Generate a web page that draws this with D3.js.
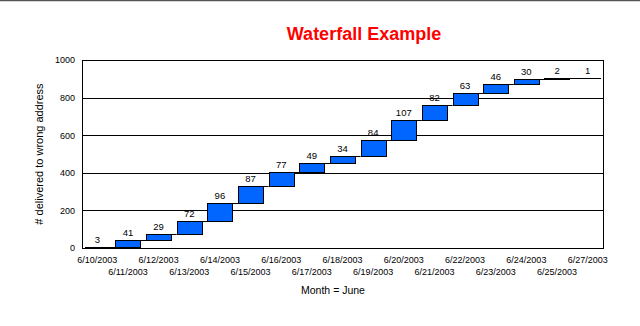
<!DOCTYPE html>
<html><head><meta charset="utf-8">
<script src="https://cdn.jsdelivr.net/npm/d3@7"></script>
<style>body{margin:0;background:#fff}svg{display:block}</style>
</head><body>
<script>
const categories = ["6/10/2003","6/11/2003","6/12/2003","6/13/2003","6/14/2003","6/15/2003","6/16/2003","6/17/2003","6/18/2003","6/19/2003","6/20/2003","6/21/2003","6/22/2003","6/23/2003","6/24/2003","6/25/2003","6/27/2003"];
const values = [3,41,29,72,96,87,77,49,34,84,107,82,63,46,30,2,1];
const yTicks = [0,200,400,600,800,1000];

const W = 640, H = 326;
const m = {left:82, right:603, top:60, bottom:248};
const svg = d3.select("body").append("svg").attr("width",W).attr("height",H);
svg.append("rect").attr("width",W).attr("height",H).attr("fill","#fff");
svg.append("line").attr("x1",0).attr("x2",W).attr("y1",0.5).attr("y2",0.5).attr("stroke","#555").attr("stroke-width",1.5);

let cum = 0;
const data = values.map((v,i)=>{const d={cat:categories[i],v,base:cum,top:cum+v};cum+=v;return d;});

const x = d3.scaleBand().domain(categories).range([m.left,m.right]).paddingInner(0.18).paddingOuter(0.09);
const y = d3.scaleLinear().domain([0,1000]).range([m.bottom,m.top]);
const font = "'Liberation Sans', Arial, sans-serif";

// gridlines
svg.append("g").selectAll("line").data(yTicks).join("line")
  .attr("x1",m.left).attr("x2",m.right)
  .attr("y1",d=>Math.round(y(d))+0.5).attr("y2",d=>Math.round(y(d))+0.5)
  .attr("stroke","#000").attr("stroke-width",1);

// frame
svg.append("rect").attr("x",m.left+0.5).attr("y",m.top+0.5)
  .attr("width",m.right-m.left).attr("height",m.bottom-m.top)
  .attr("fill","none").attr("stroke","#000");

// y axis labels
const ya = d3.axisLeft(y).tickValues(yTicks).tickFormat(d3.format("d")).tickSize(0).tickPadding(7);
const yg = svg.append("g").attr("transform",`translate(${m.left},0)`).call(ya);
yg.select(".domain").remove();
yg.selectAll("text").attr("font-family",font).attr("font-size",9).attr("fill","#000");

// connectors
svg.append("g").selectAll("line").data(data.slice(0,-1)).join("line")
  .attr("x1",d=>x(d.cat)+x.bandwidth()).attr("x2",(d,i)=>x(categories[i+1]))
  .attr("y1",d=>Math.round(y(d.top))+0.5).attr("y2",d=>Math.round(y(d.top))+0.5)
  .attr("stroke","#000");

// bars
svg.append("g").selectAll("rect").data(data).join("rect")
  .attr("x",d=>Math.round(x(d.cat))+0.5).attr("width",Math.round(x.bandwidth()))
  .attr("y",d=>Math.round(y(d.top))+0.5)
  .attr("height",d=>Math.max(0.01,Math.round(y(d.base))-Math.round(y(d.top))))
  .attr("fill","#0066ff").attr("stroke","#000").attr("stroke-width",1);

// value labels
svg.append("g").selectAll("text").data(data).join("text")
  .attr("x",d=>x(d.cat)+x.bandwidth()/2).attr("y",d=>y(d.top)-4)
  .attr("text-anchor","middle").attr("font-family",font).attr("font-size",9.5)
  .text(d=>d.v);

// x labels
svg.append("g").selectAll("text").data(categories).join("text")
  .attr("x",d=>x(d)+x.bandwidth()/2).attr("y",(d,i)=>i%2===0?263:275)
  .attr("text-anchor","middle").attr("font-family",font).attr("font-size",9)
  .text(d=>d);

// axis titles
svg.append("text").attr("x",333).attr("y",294).attr("text-anchor","middle")
  .attr("font-family",font).attr("font-size",10.5).text("Month = June");
svg.append("text").attr("transform",`translate(43,${(m.top+m.bottom)/2}) rotate(-90)`)
  .attr("text-anchor","middle").attr("font-family",font).attr("font-size",11)
  .text("# delivered to wrong address");

svg.append("text").attr("x",364).attr("y",40).attr("text-anchor","middle")
  .attr("font-family",font).attr("font-size",18).attr("font-weight","bold").attr("fill","#ff0000")
  .text("Waterfall Example");
</script>
</body></html>
